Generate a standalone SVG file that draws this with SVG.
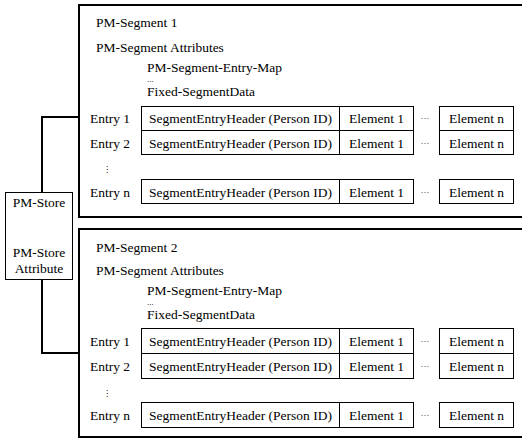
<svg xmlns="http://www.w3.org/2000/svg" width="522" height="441" viewBox="0 0 522 441" font-family="'Liberation Serif', 'Times New Roman', serif" font-size="13.5">
<style>
text{font-family:'Liberation Serif','Times New Roman',serif;font-size:13.5px;fill:#000}
.seg{fill:#fff;stroke:#000;stroke-width:2}
.cell{fill:#fff;stroke:#000;stroke-width:1}
.mid{text-anchor:middle}
.conn{fill:none;stroke:#000;stroke-width:2}
text.dots{font-size:9px}
text.vd{font-family:'DejaVu Sans',sans-serif;font-size:8px}
</style>
<rect width="522" height="441" fill="#fff"/>
<g id="connectors">
<polyline class="conn" points="42,192 42,117 79,117"/>
<polyline class="conn" points="42,280 42,353 79,353"/>
</g>
<g id="pm-store">
<rect class="cell" x="5.5" y="192.5" width="67" height="87"/>
<text class="mid" x="39" y="207">PM-Store</text>
<text class="mid" x="39" y="257">PM-Store</text>
<text class="mid" x="39" y="273">Attribute</text>
</g>
<g id="segment1">
<rect class="seg" x="79" y="5" width="445" height="212"/>
<text x="96" y="27">PM-Segment 1</text>
<text x="96" y="52">PM-Segment Attributes</text>
<text x="147" y="72">PM-Segment-Entry-Map</text>
<text x="147" y="82" class="dots">...</text>
<text x="147" y="96">Fixed-SegmentData</text>
<text x="90" y="123">Entry 1</text>
<text x="90" y="147.5">Entry 2</text>
<text x="107" y="172" class="vd mid">⋮</text>
<text x="90" y="196.5">Entry n</text>
<rect class="cell" x="141.5" y="106.5" width="198" height="24"/>
<rect class="cell" x="339.5" y="106.5" width="74" height="24"/>
<rect class="cell" x="439.5" y="106.5" width="74" height="24"/>
<rect class="cell" x="141.5" y="130.5" width="198" height="24"/>
<rect class="cell" x="339.5" y="130.5" width="74" height="24"/>
<rect class="cell" x="439.5" y="130.5" width="74" height="24"/>
<rect class="cell" x="141.5" y="179.5" width="198" height="24"/>
<rect class="cell" x="339.5" y="179.5" width="74" height="24"/>
<rect class="cell" x="439.5" y="179.5" width="74" height="24"/>
<text class="mid" x="240.5" y="123">SegmentEntryHeader (Person ID)</text>
<text class="mid" x="376.5" y="123">Element 1</text>
<text class="mid dots" x="425" y="121">···</text>
<text class="mid" x="476.5" y="123">Element n</text>
<text class="mid" x="240.5" y="147.5">SegmentEntryHeader (Person ID)</text>
<text class="mid" x="376.5" y="147.5">Element 1</text>
<text class="mid dots" x="425" y="145.5">···</text>
<text class="mid" x="476.5" y="147.5">Element n</text>
<text class="mid" x="240.5" y="196.5">SegmentEntryHeader (Person ID)</text>
<text class="mid" x="376.5" y="196.5">Element 1</text>
<text class="mid dots" x="425" y="194.5">···</text>
<text class="mid" x="476.5" y="196.5">Element n</text>
</g>
<g id="segment2">
<rect class="seg" x="79" y="229" width="445" height="208"/>
<text x="96" y="252">PM-Segment 2</text>
<text x="96" y="275">PM-Segment Attributes</text>
<text x="147" y="295">PM-Segment-Entry-Map</text>
<text x="147" y="305" class="dots">...</text>
<text x="147" y="319">Fixed-SegmentData</text>
<text x="90" y="345.5">Entry 1</text>
<text x="90" y="371">Entry 2</text>
<text x="107" y="396" class="vd mid">⋮</text>
<text x="90" y="419.5">Entry n</text>
<rect class="cell" x="141.5" y="328.5" width="198" height="25"/>
<rect class="cell" x="339.5" y="328.5" width="74" height="25"/>
<rect class="cell" x="439.5" y="328.5" width="74" height="25"/>
<rect class="cell" x="141.5" y="353.5" width="198" height="25"/>
<rect class="cell" x="339.5" y="353.5" width="74" height="25"/>
<rect class="cell" x="439.5" y="353.5" width="74" height="25"/>
<rect class="cell" x="141.5" y="402.5" width="198" height="25"/>
<rect class="cell" x="339.5" y="402.5" width="74" height="25"/>
<rect class="cell" x="439.5" y="402.5" width="74" height="25"/>
<text class="mid" x="240.5" y="345.5">SegmentEntryHeader (Person ID)</text>
<text class="mid" x="376.5" y="345.5">Element 1</text>
<text class="mid dots" x="425" y="343.5">···</text>
<text class="mid" x="476.5" y="345.5">Element n</text>
<text class="mid" x="240.5" y="371">SegmentEntryHeader (Person ID)</text>
<text class="mid" x="376.5" y="371">Element 1</text>
<text class="mid dots" x="425" y="369">···</text>
<text class="mid" x="476.5" y="371">Element n</text>
<text class="mid" x="240.5" y="419.5">SegmentEntryHeader (Person ID)</text>
<text class="mid" x="376.5" y="419.5">Element 1</text>
<text class="mid dots" x="425" y="417.5">···</text>
<text class="mid" x="476.5" y="419.5">Element n</text>
</g>
</svg>
